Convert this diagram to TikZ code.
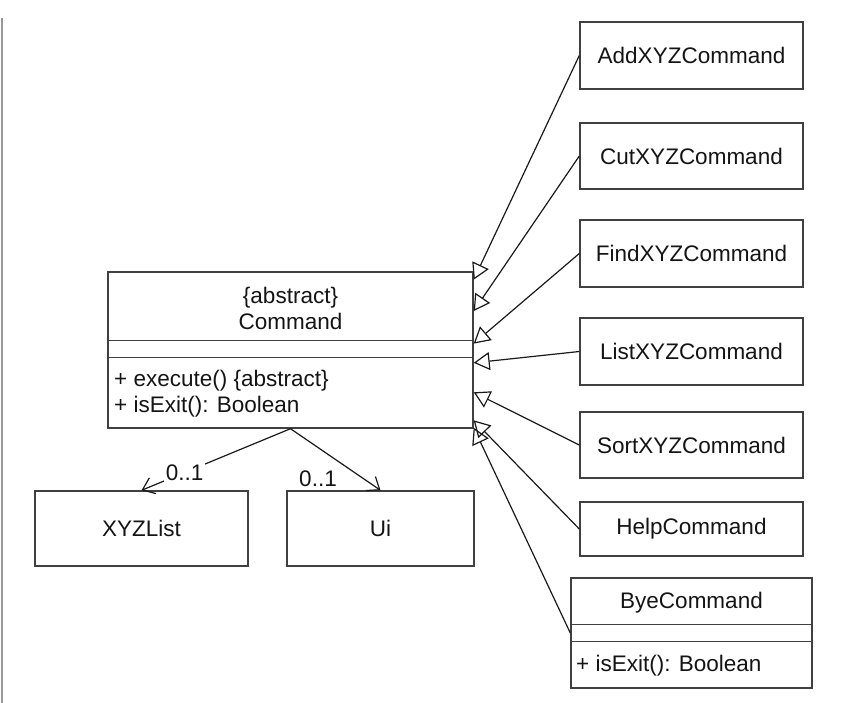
\documentclass[tikz,border=0pt]{standalone}
\usepackage{fontspec}
\setmainfont{Liberation Sans}
\usetikzlibrary{arrows.meta}
\usetikzlibrary{calc}

\begin{document}
\begin{tikzpicture} [
  x=1pt, y=-1pt,
  every node/.style={font=\fontsize{22.5}{26}\selectfont, text=black!92},
  classbox/.style={draw=black!75, line width=1.4pt, rectangle, minimum width=223pt, inner sep=0},
  sepline/.style={draw=black!75, line width=1.4pt},
  inherit/.style={draw=black!90, line width=1.2pt, -{Triangle[open, length=16pt, width=18pt]}},
  assoc/.style={draw=black!90, line width=1.2pt, -{Straight Barb[length=11pt, width=17pt]}},
  mult/.style={fill=white, inner sep=1.5pt}
  ]
  \useasboundingbox (0,0) rectangle (842,703);
  \draw [black!40, line width=2pt] (2,18) -- (2,703);

  % abstract class
  \node (cmd) [classbox, minimum width=365pt, minimum height=156pt] at (290.5,350) {};
  \draw [sepline] ($(cmd.north west)+(0,69)$) -- ($(cmd.north east)+(0,69)$);
  \draw [sepline] ($(cmd.north west)+(0,86)$) -- ($(cmd.north east)+(0,86)$);
  \node (cmdname) [align=center, inner sep=0] at (290.5,308) {\{abstract\}\\Command};
  \node (cmdops) [anchor=west, align=left, inner sep=0] at (114,393.5) {+ execute() \{abstract\}\\+ isExit(): Boolean};

  % associated classes
  \node (xyzlist) [classbox, minimum width=213pt, minimum height=75pt] at (141.5,528.5) {XYZList};
  \node (ui) [classbox, minimum width=187pt, minimum height=75pt] at (380.5,528.5) {Ui};

  % subclasses
  \node (add) [classbox, minimum height=67pt] at (691.5,55.5) {AddXYZCommand};
  \node (cut) [classbox, minimum height=66pt] at (691.5,156) {CutXYZCommand};
  \node (find) [classbox, minimum height=67pt] at (691.5,253.5) {FindXYZCommand};
  \node (list) [classbox, minimum height=67pt] at (691.5,351.5) {ListXYZCommand};
  \node (sort) [classbox, minimum height=66pt] at (691.5,445) {SortXYZCommand};
  \node (help) [classbox, minimum height=54pt] at (691.5,529) {HelpCommand};
  \node (bye) [classbox, minimum width=241pt, minimum height=110pt] at (691.5,633) {};
  \draw [sepline] ($(bye.north west)+(0,47)$) -- ($(bye.north east)+(0,47)$);
  \draw [sepline] ($(bye.north west)+(0,64)$) -- ($(bye.north east)+(0,64)$);
  \node (byename) at (691.5,603) {ByeCommand};
  \node (byeops) [anchor=west, inner sep=0] at (576,666) {+ isExit(): Boolean};

  % generalisations
  \draw [inherit] (add.west) -- (cmd.21);
  \draw [inherit] (cut.west) -- (cmd.12);
  \draw [inherit] (find.west) -- (cmd.2);
  \draw [inherit] (list.west) -- (cmd.-4);
  \draw [inherit] (sort.west) -- (cmd.-13.3);
  \draw [inherit] (help.west) -- (cmd.-21.2);
  \draw [inherit] (bye.west) -- (cmd.-23.7);

  % associations
  \draw [assoc] (cmd.south) -- (xyzlist.north) node [mult, pos=0.71] {0..1};
  \draw [assoc] (cmd.south) -- (ui.north);
  \node (uimult) [mult] at (318,479) {0..1};
\end{tikzpicture}
\end{document}
